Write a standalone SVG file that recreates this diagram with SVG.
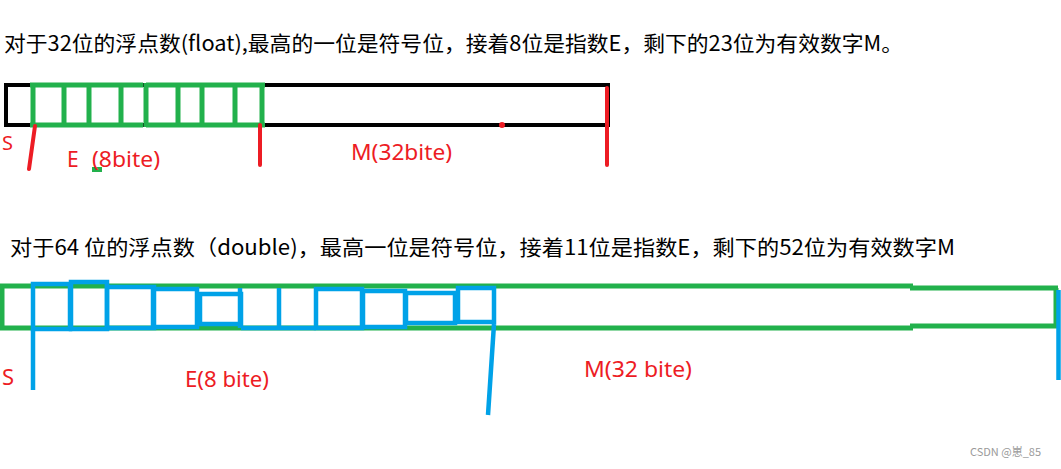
<svg xmlns="http://www.w3.org/2000/svg" width="1061" height="469" viewBox="0 0 1061 469">
<style>
.title{font-family:"Noto Sans CJK SC","Noto Sans",sans-serif;font-size:21px;fill:#000}
.lbl{font-family:"Noto Sans","Noto Sans CJK SC",sans-serif;font-size:21px;fill:#ed1c24}
.blk{fill:none;stroke:#000;stroke-width:4}
.grn{fill:none;stroke:#22b14c;stroke-width:5}
.red{fill:none;stroke:#ed1c24;stroke-width:4;stroke-linecap:round}
.blu{fill:none;stroke:#00a2e8;stroke-width:4.5}
.wm{font-family:"Noto Sans CJK SC","Noto Sans",sans-serif;font-size:11px;fill:#9a9a9a}
</style>
<rect width="1061" height="469" fill="#fff"/>
<text class="title" x="4" y="51" textLength="899" lengthAdjust="spacingAndGlyphs">对于32位的浮点数(float),最高的一位是符号位，接着8位是指数E，剩下的23位为有效数字M。</text>
<g id="float32">
<rect class="blk" x="6" y="85" width="602" height="40"/>
<path class="grn" d="M30 85 H143 M30 125 H143 M146 85 H265 M146 125 H265 M33 83 V127 M64 83 V127 M89 83 V127 M121 83 V127 M146 83 V127 M178 83 V127 M202 83 V127 M235 83 V127 M262 83 V127"/>
<rect x="92" y="167" width="10" height="5" fill="#22b14c"/>
</g>
<g id="float32-markers">
<path class="red" d="M35 126 L29 169 M260 125 V165 M607 88 V165"/>
<circle cx="502" cy="125" r="3" fill="#ed1c24"/>
</g>
<g id="float32-labels">
<text class="lbl" x="2" y="150" style="font-size:20px">S</text>
<text class="lbl" x="67" y="167">E</text>
<text class="lbl" x="92" y="167" textLength="68" lengthAdjust="spacingAndGlyphs">(8bite)</text>
<text class="lbl" x="351" y="160" textLength="101" lengthAdjust="spacingAndGlyphs">M(32bite)</text>
</g>
<text class="title" x="10" y="255" textLength="945" lengthAdjust="spacingAndGlyphs">对于64 位的浮点数（double)，最高一位是符号位，接着11位是指数E，剩下的52位为有效数字M</text>
<g id="double64">
<path class="grn" d="M0 286 H913 M0 328 H913 M910 288 H1058 M910 326 H1058 M2 286 V328 M1056 288 V326"/>
<rect class="blu" x="33" y="284" width="37" height="45"/>
<rect class="blu" x="71" y="282" width="36" height="47"/>
<rect class="blu" x="107" y="287" width="47" height="41"/>
<rect class="blu" x="153" y="289" width="44" height="38"/>
<rect class="blu" x="200" y="294" width="41" height="30" stroke-width="5.5"/>
<path class="blu" d="M240 288 V328 M279 288 V328 M241 328 H316"/>
<rect class="blu" x="316" y="289" width="46" height="39"/>
<rect class="blu" x="363" y="291" width="42" height="36"/>
<rect class="blu" x="406" y="293" width="49" height="30" stroke-width="5.5"/>
<rect class="blu" x="458" y="288" width="36" height="34"/>
</g>
<g id="double64-markers">
<path class="blu" d="M33 329 V390 M494 324 L488 415 M1058.5 290 V380" stroke-width="4"/>
</g>
<g id="double64-labels">
<text class="lbl" x="2" y="385" style="font-size:22px">S</text>
<text class="lbl" x="185" y="387" textLength="84" lengthAdjust="spacingAndGlyphs">E(8 bite)</text>
<text class="lbl" x="584" y="377" textLength="108" lengthAdjust="spacingAndGlyphs">M(32 bite)</text>
</g>
<text class="wm" x="970" y="456">CSDN @崽_85</text>
</svg>
